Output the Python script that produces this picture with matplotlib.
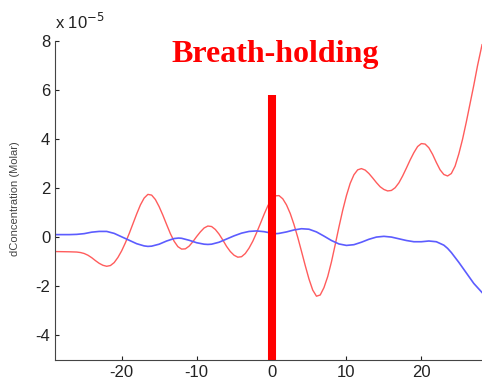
import numpy as np
import matplotlib
matplotlib.use('Agg')
import matplotlib.pyplot as plt

plt.rcParams['font.family'] = ['Liberation Sans', 'DejaVu Sans']
plt.rcParams['axes.unicode_minus'] = False

# time (s) relative to breath-holding onset, concentration change in units of 1e-5 Molar
red_t = [-28.9, -27, -26, -25.5, -25, -24.5, -24, -23.5, -23, -22.5, -22, -21.5, -21, -20.5,
         -20, -19.5, -19, -18.5, -18, -17.5, -17, -16.5, -16, -15.5, -15, -14.5, -14, -13.5,
         -13, -12.5, -12, -11.5, -11, -10.5, -10, -9.5, -9, -8.5, -8, -7.5, -7, -6.5,
         -6, -5.5, -5, -4.5, -4, -3.5, -3, -2.5, -2, -1.5, -1, -0.5, 0, 0.5,
         1, 1.5, 2, 2.5, 3, 3.5, 4, 4.5, 5, 5.5, 6, 6.5, 7, 7.5,
         8, 8.5, 9, 9.5, 10, 10.5, 11, 11.5, 12, 12.5, 13, 13.5, 14, 14.5,
         15, 15.5, 16, 16.5, 17, 17.5, 18, 18.5, 19, 19.5, 20, 20.5, 21, 21.5,
         22, 22.5, 23, 23.5, 24, 24.5, 25, 25.5, 26, 26.5, 27, 27.5, 28.1]
red_c = [-0.58, -0.59, -0.60, -0.62, -0.66, -0.73, -0.83, -0.95, -1.06, -1.14, -1.18, -1.15, -1.03, -0.82,
         -0.55, -0.22, 0.15, 0.55, 0.95, 1.32, 1.6, 1.75, 1.72, 1.54, 1.25, 0.9, 0.52, 0.15,
         -0.16, -0.38, -0.48, -0.47, -0.36, -0.18, 0.03, 0.22, 0.38, 0.46, 0.44, 0.32, 0.13, -0.11,
         -0.37, -0.58, -0.73, -0.81, -0.79, -0.66, -0.44, -0.16, 0.18, 0.55, 0.93, 1.28, 1.55, 1.69,
         1.7, 1.57, 1.32, 0.97, 0.52, 0.0, -0.57, -1.15, -1.7, -2.15, -2.4, -2.35, -2.05, -1.6,
         -1.0, -0.3, 0.42, 1.1, 1.7, 2.2, 2.55, 2.75, 2.8, 2.74, 2.6, 2.42, 2.23, 2.06,
         1.95, 1.89, 1.91, 2.02, 2.22, 2.5, 2.82, 3.15, 3.45, 3.7, 3.82, 3.8, 3.65, 3.38,
         3.05, 2.75, 2.56, 2.5, 2.6, 2.9, 3.4, 4.0, 4.7, 5.45, 6.2, 7.0, 7.85]

blue_t = [-28.9, -28, -27, -26, -25, -24, -23, -22, -21, -20, -19, -18, -17, -16.5, -16,
          -15, -14, -13, -12.4, -12, -11, -10, -9, -8.5, -8, -7, -6, -5, -4, -3,
          -2, -1, 0, 0.7, 1, 2, 3, 4, 5, 6, 7, 8, 9, 10, 11, 12, 13, 14, 15,
          16, 17, 18, 19, 20, 21, 22, 23, 23.5, 24, 24.5, 25, 26, 27, 28.1]
blue_c = [0.11, 0.11, 0.11, 0.12, 0.15, 0.21, 0.24, 0.24, 0.16, 0.02, -0.12, -0.26, -0.35, -0.37, -0.36,
          -0.28, -0.15, -0.05, -0.03, -0.04, -0.12, -0.22, -0.28, -0.29, -0.28, -0.2, -0.07, 0.06, 0.17, 0.24,
          0.26, 0.23, 0.17, 0.15, 0.16, 0.22, 0.3, 0.35, 0.33, 0.22, 0.05, -0.13, -0.27, -0.33, -0.3, -0.2, -0.08, 0.01, 0.04,
          0.01, -0.06, -0.13, -0.18, -0.18, -0.15, -0.18, -0.32, -0.45, -0.62, -0.82, -1.02, -1.45, -1.88, -2.25]

marker_t = [0, 0]
marker_c = [-5, 5.8]

fig = plt.figure(figsize=(4.82, 3.85), dpi=100)
ax = fig.add_axes([0.1141, 0.0649, 0.886, 0.8286])

ax.plot(red_t, red_c, color='#ff5c5c', lw=1.0)
ax.plot(blue_t, blue_c, color='#5c5cff', lw=1.2)
ax.plot(marker_t, marker_c, color='#ff0000', lw=5.8, solid_capstyle='butt')

ax.set_xlim(-28.9, 28.1)
ax.set_ylim(-5, 8)
ax.set_xticks([-20, -10, 0, 10, 20])
ax.set_yticks([-4, -2, 0, 2, 4, 6, 8])
ax.tick_params(direction='in', length=3, labelsize=12, colors='#222222')
for s in ['top', 'right']:
    ax.spines[s].set_visible(False)
for s in ['left', 'bottom']:
    ax.spines[s].set_color('#444444')

ax.set_ylabel('dConcentration (Molar)', fontsize=8, color='#444444')
ax.yaxis.set_label_coords(-0.082, 0.505)
fig.text(0.114, 0.925, r'x 10$^{-5}$', fontsize=12, color='#222222')
fig.text(0.571, 0.858, 'Breath-holding', fontsize=23, color='#ff0000',
         fontweight='bold', family='Liberation Serif', ha='center', va='center')

fig.savefig('out.png', dpi=100)
